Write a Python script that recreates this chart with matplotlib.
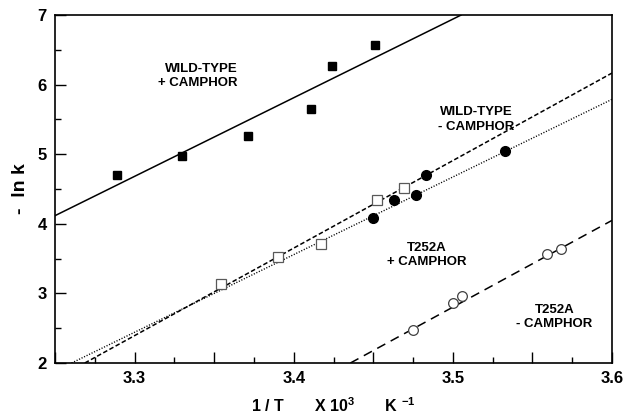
import matplotlib
matplotlib.use("Agg")
import matplotlib.pyplot as plt
from matplotlib.ticker import MultipleLocator, FuncFormatter

plt.rcParams['font.family'] = ['Liberation Sans', 'DejaVu Sans']
plt.rcParams['mathtext.fontset'] = 'custom'
plt.rcParams['mathtext.bf'] = 'Liberation Sans:bold'
plt.rcParams['mathtext.rm'] = 'Liberation Sans:bold'

# data (1/T x 10^3, -ln k)
wt_cam_x = [3.289, 3.330, 3.371, 3.411, 3.424, 3.451]
wt_cam_y = [4.70, 4.97, 5.26, 5.65, 6.27, 6.57]
wt_nocam_x = [3.450, 3.463, 3.477, 3.483, 3.533]
wt_nocam_y = [4.08, 4.34, 4.42, 4.70, 5.04]
t252_cam_x = [3.354, 3.390, 3.417, 3.452, 3.469]
t252_cam_y = [3.13, 3.52, 3.71, 4.34, 4.52]
t252_nocam_x = [3.475, 3.500, 3.506, 3.559, 3.568]
t252_nocam_y = [2.48, 2.86, 2.96, 3.57, 3.64]

# fitted lines: a point on the line and its slope
wt_cam_fit = ((3.4648, 6.545), 11.3)
wt_nocam_fit = ((3.2687, 2.0), 12.58)
t252_cam_fit = ((3.2604, 2.0), 11.16)
t252_nocam_fit = ((3.4356, 2.0), 12.47)

fig = plt.figure(figsize=(6.26, 4.2), dpi=100)
ax = fig.add_axes([0.0879, 0.1357, 0.8898, 0.8283])

ax.axline(wt_cam_fit[0], slope=wt_cam_fit[1], color='black', lw=1.1)
ax.axline(wt_nocam_fit[0], slope=wt_nocam_fit[1], color='black', lw=1.1,
          dashes=(3, 1.6))
ax.axline(t252_cam_fit[0], slope=t252_cam_fit[1], color='black', lw=1.0,
          dashes=(0.8, 1.2))
ax.axline(t252_nocam_fit[0], slope=t252_nocam_fit[1], color='black', lw=1.1,
          dashes=(6, 4))

ax.plot(wt_cam_x, wt_cam_y, 's', color='black', ms=6, zorder=3)
ax.plot(wt_nocam_x, wt_nocam_y, 'o', color='black', ms=7, zorder=3)
ax.plot(t252_cam_x, t252_cam_y, 's', mfc='white', mec='0.35', mew=0.9, ms=6.5, zorder=3)
ax.plot(t252_nocam_x, t252_nocam_y, 'o', mfc='white', mec='0.25', mew=0.9, ms=7, zorder=3)

lab = dict(fontsize=9.5, fontweight='bold', linespacing=1.25)
ax.text(3.3646, 6.13, "WILD-TYPE\n+ CAMPHOR", ha='right', va='center', **lab)
ax.text(3.5146, 5.50, "WILD-TYPE\n- CAMPHOR", ha='center', va='center', **lab)
ax.text(3.4835, 3.555, "T252A\n+ CAMPHOR", ha='center', va='center', **lab)
ax.text(3.5638, 2.664, "T252A\n- CAMPHOR", ha='center', va='center', **lab)

ax.set_xlim(3.25, 3.6)
ax.set_ylim(2, 7)
ax.xaxis.set_major_locator(MultipleLocator(0.05))
ax.xaxis.set_minor_locator(MultipleLocator(0.025))
ax.xaxis.set_major_formatter(FuncFormatter(
    lambda v, p: "%.1f" % v if abs(round(v * 10) - v * 10) < 1e-6 else ""))
ax.yaxis.set_major_locator(MultipleLocator(1))
ax.yaxis.set_minor_locator(MultipleLocator(0.5))
ax.tick_params(which='both', direction='in', width=1.0, labelsize=12)
ax.tick_params(which='major', length=8, pad=6)
ax.tick_params(which='minor', length=4)
for lbl in ax.get_xticklabels() + ax.get_yticklabels():
    lbl.set_fontweight('bold')
for s in ax.spines.values():
    s.set_linewidth(1.2)

ax.set_xlabel(r"1 / T       X 10$^{3}$       K $^{-1}$", fontsize=11.5,
              fontweight='bold', labelpad=7)
ax.set_ylabel("-  ln k", fontsize=14, fontweight='bold', labelpad=6)

fig.savefig("out.png", dpi=100)
